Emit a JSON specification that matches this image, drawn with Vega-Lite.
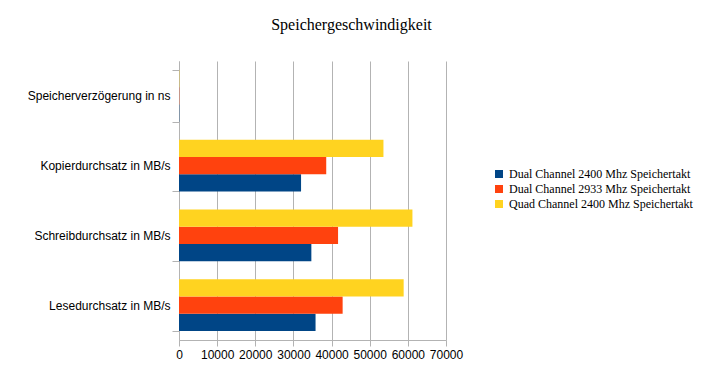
{
  "$schema": "https://vega.github.io/schema/vega-lite/v6.json",
  "autosize": "none",
  "width": 267,
  "height": 279,
  "padding": {"left": 179, "top": 61, "right": 256, "bottom": 45},
  "background": "white",
  "title": {
    "text": "Speichergeschwindigkeit",
    "font": "Liberation Serif",
    "fontSize": 16,
    "fontWeight": "normal",
    "color": "#000000",
    "anchor": "middle",
    "dx": 39,
    "offset": 22
  },
  "data": {
    "values": [
      {"kategorie": "Speicherverzögerung in ns", "serie": "Dual Channel 2400 Mhz Speichertakt", "ord": 3, "wert": 70},
      {"kategorie": "Speicherverzögerung in ns", "serie": "Dual Channel 2933 Mhz Speichertakt", "ord": 2, "wert": 65},
      {"kategorie": "Speicherverzögerung in ns", "serie": "Quad Channel 2400 Mhz Speichertakt", "ord": 1, "wert": 75},
      {"kategorie": "Kopierdurchsatz in MB/s", "serie": "Dual Channel 2400 Mhz Speichertakt", "ord": 3, "wert": 32000},
      {"kategorie": "Kopierdurchsatz in MB/s", "serie": "Dual Channel 2933 Mhz Speichertakt", "ord": 2, "wert": 38600},
      {"kategorie": "Kopierdurchsatz in MB/s", "serie": "Quad Channel 2400 Mhz Speichertakt", "ord": 1, "wert": 53600},
      {"kategorie": "Schreibdurchsatz in MB/s", "serie": "Dual Channel 2400 Mhz Speichertakt", "ord": 3, "wert": 34700},
      {"kategorie": "Schreibdurchsatz in MB/s", "serie": "Dual Channel 2933 Mhz Speichertakt", "ord": 2, "wert": 41700},
      {"kategorie": "Schreibdurchsatz in MB/s", "serie": "Quad Channel 2400 Mhz Speichertakt", "ord": 1, "wert": 61200},
      {"kategorie": "Lesedurchsatz in MB/s", "serie": "Dual Channel 2400 Mhz Speichertakt", "ord": 3, "wert": 35800},
      {"kategorie": "Lesedurchsatz in MB/s", "serie": "Dual Channel 2933 Mhz Speichertakt", "ord": 2, "wert": 42900},
      {"kategorie": "Lesedurchsatz in MB/s", "serie": "Quad Channel 2400 Mhz Speichertakt", "ord": 1, "wert": 58900}
    ]
  },
  "mark": {"type": "bar"},
  "encoding": {
    "y": {
      "field": "kategorie",
      "type": "nominal",
      "sort": ["Speicherverzögerung in ns", "Kopierdurchsatz in MB/s", "Schreibdurchsatz in MB/s", "Lesedurchsatz in MB/s"],
      "title": null,
      "scale": {"paddingInner": 0.26, "paddingOuter": 0.13},
      "axis": {
        "grid": false,
        "tickBand": "extent",
        "labelFont": "Liberation Sans",
        "labelFontSize": 12,
        "labelColor": "#000000",
        "labelPadding": 2,
        "tickSize": 7,
        "tickColor": "#b3b3b3",
        "domainColor": "#b3b3b3",
        "labelLimit": 200
      }
    },
    "yOffset": {
      "field": "serie",
      "type": "nominal",
      "sort": ["Quad Channel 2400 Mhz Speichertakt", "Dual Channel 2933 Mhz Speichertakt", "Dual Channel 2400 Mhz Speichertakt"]
    },
    "x": {
      "field": "wert",
      "type": "quantitative",
      "title": null,
      "scale": {"domain": [0, 70000], "nice": false},
      "axis": {
        "grid": true,
        "values": [0, 10000, 20000, 30000, 40000, 50000, 60000, 70000],
        "format": "d",
        "labelFont": "Liberation Sans",
        "labelFontSize": 12,
        "labelColor": "#000000",
        "labelPadding": 3,
        "tickSize": 6,
        "tickColor": "#b3b3b3",
        "domainColor": "#b3b3b3",
        "gridColor": "#b3b3b3",
        "labelFlush": false
      }
    },
    "color": {
      "field": "serie",
      "type": "nominal",
      "sort": ["Dual Channel 2400 Mhz Speichertakt", "Dual Channel 2933 Mhz Speichertakt", "Quad Channel 2400 Mhz Speichertakt"],
      "scale": {"range": ["#004586", "#ff420e", "#ffd320"]},
      "legend": {
        "title": null,
        "orient": "none",
        "legendX": 314,
        "legendY": 107,
        "symbolType": "square",
        "symbolSize": 64,
        "symbolStrokeWidth": 0,
        "labelFont": "Liberation Serif",
        "labelFontSize": 12,
        "labelColor": "#000000",
        "labelLimit": 300,
        "rowPadding": 3
      }
    }
  },
  "config": {
    "view": {"stroke": null}
  }
}
